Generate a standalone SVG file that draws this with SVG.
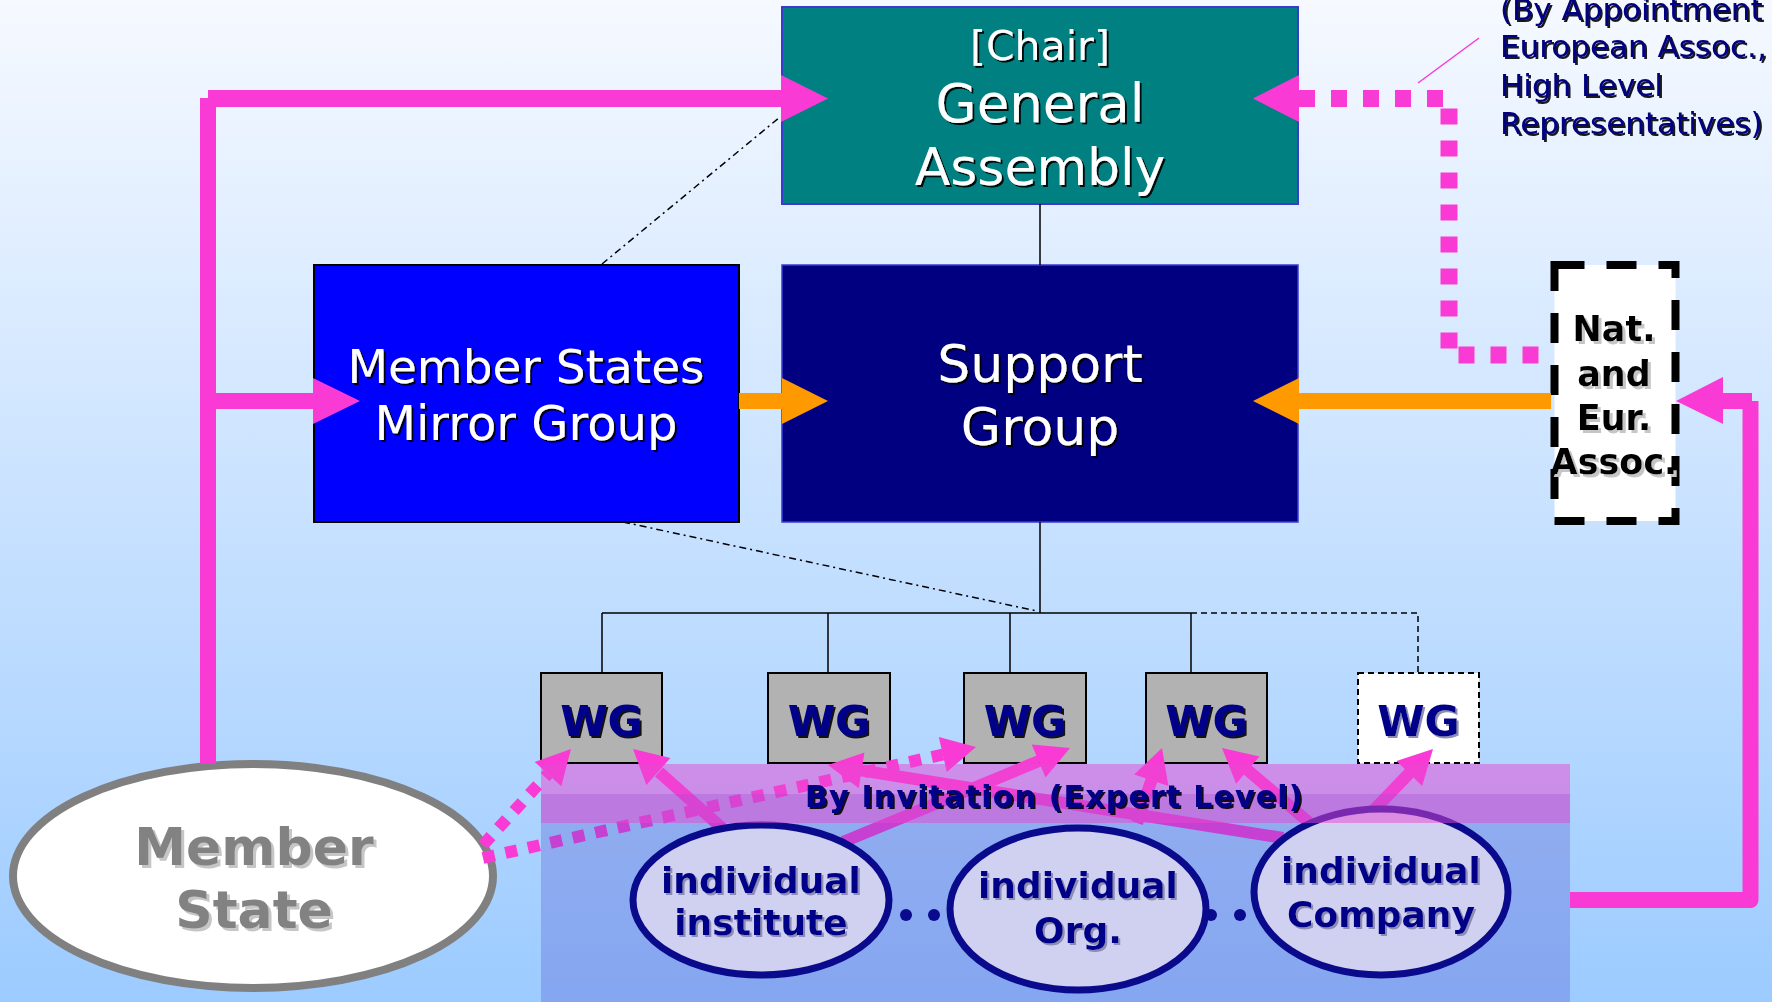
<svg xmlns="http://www.w3.org/2000/svg" width="1772" height="1002" viewBox="0 0 1772 1002">
<defs>
<linearGradient id="bg" x1="0" y1="0" x2="0" y2="1">
<stop offset="0" stop-color="#f6f9ff"/>
<stop offset="1" stop-color="#9ccbff"/>
</linearGradient>
<filter id="shD" x="-5%" y="-20%" width="115%" height="150%"><feDropShadow dx="2" dy="2" stdDeviation="0" flood-color="#000000" flood-opacity="0.9"/></filter>
<filter id="shL" x="-5%" y="-20%" width="115%" height="150%"><feDropShadow dx="2" dy="2" stdDeviation="0" flood-color="#8c8cb4"/></filter>
<filter id="shG" x="-5%" y="-20%" width="115%" height="150%"><feDropShadow dx="3" dy="3" stdDeviation="0" flood-color="#c6c6c6"/></filter>
<style>
text{font-family:"DejaVu Sans",Verdana,sans-serif;text-anchor:middle}
.w{fill:#ffffff}
.nv{fill:#000088;font-weight:bold}
.pk{stroke:#f93ad4;fill:none}
.pkf{fill:#f93ad4}
.sa{stroke:#f93ad4;stroke-width:12;fill:none}
.da{stroke:#f93ad4;stroke-width:12;fill:none;stroke-dasharray:12 11}
.or{stroke:#ff9900;stroke-width:16;fill:none}
.orf{fill:#ff9900}
.tl{stroke:#000000;stroke-width:1.5;fill:none}
.wg{fill:#b2b2b2;stroke:#000000;stroke-width:2}
.ind{fill:#d0d0f0;stroke:#0a0a8c;stroke-width:7}
.dot{fill:#0a0a8c}
</style>
</defs>
<rect x="0" y="0" width="1772" height="1002" fill="url(#bg)"/>

<g id="general-assembly">
<rect x="782" y="7" width="516" height="197" fill="#008080" stroke="#3a3ad0" stroke-width="2"/>
<g class="w" filter="url(#shD)">
<text x="1040" y="60" font-size="41">[Chair]</text>
<text x="1040" y="122" font-size="53">General</text>
<text x="1040" y="185" font-size="52">Assembly</text>
</g>
</g>

<g id="support-group">
<rect x="782" y="265" width="516" height="257" fill="#000080" stroke="#3a3ad0" stroke-width="1.5"/>
<g class="w" filter="url(#shD)">
<text x="1040" y="382" font-size="52">Support</text>
<text x="1040" y="445" font-size="52">Group</text>
</g>
</g>

<g id="mirror-group">
<rect x="314" y="265" width="425" height="257" fill="#0000ff" stroke="#000000" stroke-width="2"/>
<g class="w" filter="url(#shD)">
<text x="526" y="383" font-size="47">Member States</text>
<text x="526" y="440" font-size="48">Mirror Group</text>
</g>
</g>

<g id="nat-eur-assoc">
<rect x="1554.5" y="265" width="121" height="256" fill="#ffffff" stroke="#000000" stroke-width="8" stroke-dasharray="30 22"/>
<g fill="#000000" font-weight="bold" font-size="35" filter="url(#shG)">
<text x="1614" y="341">Nat.</text>
<text x="1614" y="386">and</text>
<text x="1614" y="430">Eur.</text>
<text x="1614" y="474">Assoc.</text>
</g>
</g>

<g id="wg1"><rect class="wg" x="541" y="673" width="121" height="90"/><text class="nv" x="601.5" y="736" font-size="43" filter="url(#shD)">WG</text></g>
<g id="wg2"><rect class="wg" x="768" y="673" width="122" height="90"/><text class="nv" x="829" y="736" font-size="43" filter="url(#shD)">WG</text></g>
<g id="wg3"><rect class="wg" x="964" y="673" width="122" height="90"/><text class="nv" x="1025" y="736" font-size="43" filter="url(#shD)">WG</text></g>
<g id="wg4"><rect class="wg" x="1146" y="673" width="121" height="90"/><text class="nv" x="1206.5" y="736" font-size="43" filter="url(#shD)">WG</text></g>
<g id="wg5"><rect x="1358" y="673" width="121" height="90" fill="#ffffff" stroke="#000000" stroke-width="2" stroke-dasharray="6 4"/><text class="nv" x="1418.5" y="736" font-size="43" filter="url(#shL)">WG</text></g>

<g id="member-state">
<ellipse cx="253" cy="876" rx="240" ry="112" fill="#ffffff" stroke="#808080" stroke-width="8"/>
<g fill="#828282" font-weight="bold" font-size="52" filter="url(#shG)">
<text x="254" y="865">Member</text>
<text x="254" y="928">State</text>
</g>
</g>

<g id="connectors">
<path class="tl" d="M1040,204 V265 M1040,522 V613 M602,613 H1191 M602,613 V673 M828,613 V673 M1010,613 V673 M1191,613 V673"/>
<path class="tl" d="M1191,613 H1418 V673" stroke-dasharray="6 4"/>
<path class="tl" d="M602,264 L780,117 M623,522 L1037,611" stroke-width="1.3" stroke-dasharray="7 4 2 4"/>
<line class="pk" x1="208" y1="98.5" x2="783" y2="98.5" stroke-width="17"/>
<line class="pk" x1="208" y1="98" x2="208" y2="764" stroke-width="16"/>
<line class="pk" x1="208" y1="401" x2="315" y2="401" stroke-width="16"/>
<polygon class="pkf" points="781,75 828,98.5 781,122"/>
<polygon class="pkf" points="313,378 360,401 313,424"/>
<line class="pk" x1="1722" y1="401" x2="1752" y2="401" stroke-width="16"/>
<path class="pk" d="M1750.5,401 V900 H1570" stroke-width="16" stroke-linejoin="round"/>
<polygon class="pkf" points="1723,377 1676,401 1723,424"/>
<path class="pk" d="M1299,98.5 H1449 V355 H1554" stroke-width="17" stroke-dasharray="16 16"/>
<polygon class="pkf" points="1299,75 1253,98.5 1299,122"/>
<line class="pk" x1="1418" y1="83" x2="1479" y2="38" stroke-width="1.5"/>
<line class="or" x1="739" y1="401" x2="783" y2="401"/>
<polygon class="orf" points="782,378 828,401 782,424"/>
<line class="or" x1="1551" y1="401" x2="1298" y2="401"/>
<polygon class="orf" points="1299,378 1253,401 1299,424"/>
<line class="da" x1="483" y1="845" x2="548" y2="774"/>
<polygon class="pkf" points="571,749 561.3,786.3 534.7,761.9"/>
<line class="da" x1="483" y1="858" x2="943" y2="754.5"/>
<polygon class="pkf" points="976,747 946.8,772.1 938.8,736.9"/>
<line class="sa" x1="722" y1="828" x2="659" y2="772"/>
<polygon class="pkf" points="633,749 670.4,758.1 646.4,785.1"/>
<line class="sa" x1="843" y1="842" x2="1039" y2="761"/>
<polygon class="pkf" points="1070,748 1045.5,777.6 1031.7,744.4"/>
<line class="sa" x1="1283" y1="838" x2="861" y2="770.4"/>
<polygon class="pkf" points="828,765 864.4,752.6 858.8,788.2"/>
<line class="sa" x1="1137" y1="823" x2="1151.5" y2="780"/>
<polygon class="pkf" points="1162,748 1168.4,785.9 1134.2,774.5"/>
<line class="sa" x1="1312" y1="825" x2="1247.5" y2="770"/>
<polygon class="pkf" points="1222,748 1259.5,756.4 1236.1,783.8"/>
<line class="sa" x1="1372" y1="812" x2="1409.5" y2="773"/>
<polygon class="pkf" points="1433,749 1422.2,785.9 1396.4,760.9"/>
</g>

<g id="expert-panel">
<rect x="541" y="794" width="1029" height="208" fill="#5054cd" opacity="0.3"/>
<circle class="dot" cx="906" cy="915" r="6"/>
<circle class="dot" cx="934" cy="915" r="6"/>
<circle class="dot" cx="1211" cy="915" r="6"/>
<circle class="dot" cx="1240" cy="915" r="6"/>
</g>

<g id="individual-institute">
<ellipse class="ind" cx="761" cy="900" rx="128" ry="75"/>
<g class="nv" fill="#0a0a99" font-size="36" filter="url(#shL)">
<text x="761" y="893">individual</text>
<text x="761" y="935">institute</text>
</g>
</g>
<g id="individual-org">
<ellipse class="ind" cx="1078" cy="909" rx="128" ry="81"/>
<g class="nv" font-size="36" filter="url(#shL)">
<text x="1078" y="898">individual</text>
<text x="1078" y="943">Org.</text>
</g>
</g>
<g id="individual-company">
<ellipse class="ind" cx="1381" cy="892" rx="127" ry="83"/>
<g class="nv" font-size="36" filter="url(#shL)">
<text x="1381" y="883">individual</text>
<text x="1381" y="927">Company</text>
</g>
</g>

<g id="invitation-band">
<rect x="541" y="764" width="1029" height="59" fill="#e847d1" opacity="0.5"/>
<text class="nv" x="805" y="807" font-size="30" letter-spacing="1.2" style="text-anchor:start" filter="url(#shD)">By Invitation (Expert Level)</text>
</g>

<g id="appointment-note" fill="#000080" font-size="31" filter="url(#shD)" style="text-anchor:start">
<text x="1500" y="20" style="text-anchor:start">(By Appointment</text>
<text x="1500" y="57" style="text-anchor:start">European Assoc.,</text>
<text x="1500" y="96" style="text-anchor:start">High Level</text>
<text x="1500" y="134" style="text-anchor:start">Representatives)</text>
</g>
</svg>
